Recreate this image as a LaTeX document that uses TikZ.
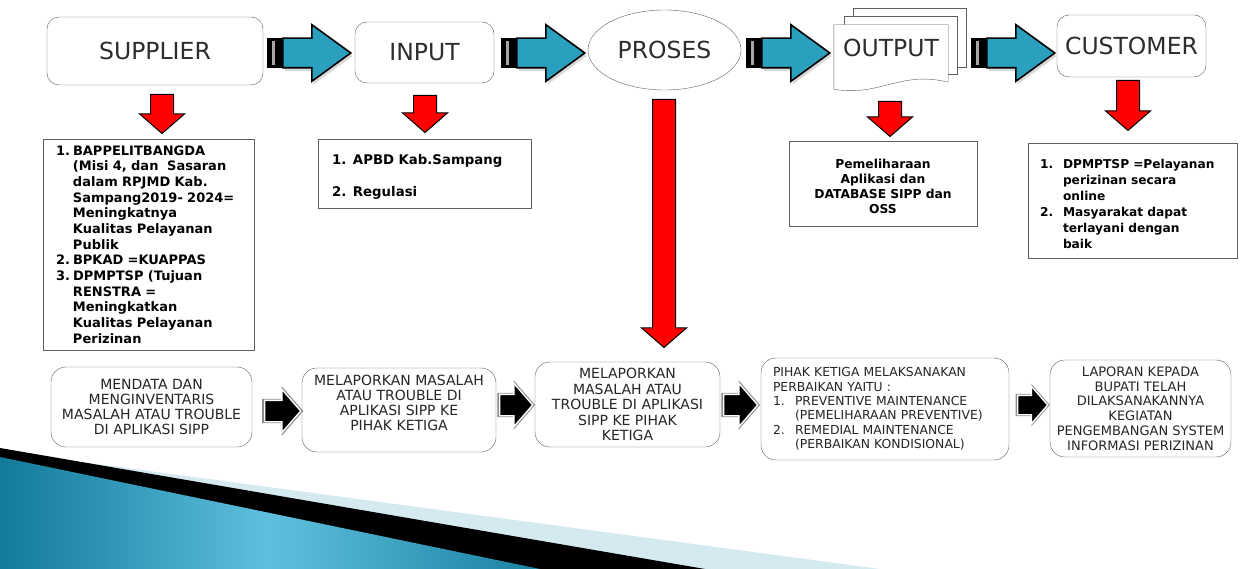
\documentclass[tikz,border=0pt]{standalone}
\usepackage{fontspec}
\setmainfont{DejaVu Sans}
\usetikzlibrary{shapes.geometric,shapes.arrows,calc,shadows,backgrounds}
\setlength{\parindent}{0pt}
\definecolor{arrowblue}{RGB}{43,160,190}
\definecolor{boxgray}{RGB}{95,95,95}
\definecolor{labelgray}{RGB}{45,45,45}
\definecolor{tealdark}{RGB}{18,122,154}
\definecolor{teallight}{RGB}{94,192,222}
\definecolor{tealpale}{RGB}{213,233,240}
\tikzstyle{topbox} = [draw=boxgray, fill=white, rounded corners=12pt,
    font=\fontsize{23.5}{26}\selectfont, text=labelgray, inner sep=0pt]
\tikzstyle{listbox} = [draw=boxgray, fill=white, rectangle, align=left,
    font=\bfseries\fontsize{13}{15.67}\selectfont, inner ysep=0pt]
\tikzstyle{stepbox} = [draw=boxgray, fill=white, rounded corners=15pt,
    align=center, text=black!85, inner sep=0pt]
\tikzstyle{bluearrow} = [single arrow, draw=black, line width=1.6pt, fill=arrowblue,
    inner xsep=0pt, inner ysep=14pt, minimum width=0pt, minimum height=68pt,
    single arrow head extend=13.5pt, single arrow tip angle=72, anchor=tail,
    drop shadow={shadow xshift=2pt, shadow yshift=-3pt, opacity=0.3, fill=gray}]
\tikzstyle{arrowtail} = [rectangle, fill=black, minimum width=15pt, minimum height=30pt,
    inner sep=0pt, path picture={\fill[gray!70]
      ([xshift=5pt,yshift=3pt]path picture bounding box.south west) rectangle
      ([xshift=8pt,yshift=-3pt]path picture bounding box.north west);}]
\tikzstyle{redarrow} = [single arrow, draw=black, line width=1pt, fill=red,
    inner xsep=0pt, inner ysep=11pt, minimum width=0pt,
    single arrow head extend=11pt, single arrow tip angle=98, rotate=-90, anchor=tail]
\tikzstyle{steparrow} = [single arrow, draw=white, line width=1.4pt, fill=black,
    inner xsep=0pt, inner ysep=10pt, minimum width=0pt,
    single arrow head extend=11pt, single arrow tip angle=98, anchor=tail,
    drop shadow={shadow xshift=0pt, shadow yshift=0pt, shadow scale=1.14, opacity=0.6, fill=black!75}]

\begin{document}
\begin{tikzpicture}[x=1pt,y=-1pt]
\useasboundingbox (0,0) rectangle (1242,569);
% corner decoration
\fill[tealpale] (0,451) -- (880,569) -- (0,569) -- cycle;
\fill[black] (0,448) -- (705,569) -- (0,569) -- cycle;
\shade[left color=tealdark, right color=tealdark!90!teallight, middle color=teallight]
  (0,457) -- (540,569) -- (0,569) -- cycle;

% top row
\node[topbox, minimum width=216pt, minimum height=68pt] (supplier) at (155,51) {SUPPLIER};
\node[topbox, minimum width=139pt, minimum height=61pt] (input) at (424.5,52.5) {INPUT};
\node[draw=boxgray, fill=white, ellipse, minimum width=153pt, minimum height=80pt,
  inner sep=0pt, font=\fontsize{23.5}{26}\selectfont, text=labelgray] (proses) at (664.5,50) {PROSES};
\node[minimum width=114pt, minimum height=46pt, inner sep=0pt,
  font=\fontsize{23.5}{26}\selectfont, text=labelgray] (output) at (891,48) {OUTPUT};
\node[topbox, minimum width=149pt, minimum height=62pt] (customer) at (1131.5,46) {CUSTOMER};
\begin{scope}[on background layer]
  \draw[boxgray, fill=white] ($(output.north west)+(19,-17)$) rectangle ($(output.south east)+(18,-4)$);
  \draw[boxgray, fill=white] ($(output.north west)+(10,-9)$) rectangle ($(output.south east)+(9,3)$);
  \draw[boxgray, fill=white] (output.north west) -- (output.north east) -- ($(output.south east)+(0,11)$)
    .. controls +(-48,-12) and +(46,8) .. ($(output.south west)+(0,18)$) -- cycle;
\end{scope}

% blue arrows
\node[bluearrow] (a1) at (282,53) {};
\node[arrowtail, anchor=east] (t1) at (a1.tail) {};
\node[bluearrow] (a2) at (516,53) {};
\node[arrowtail, anchor=east] (t2) at (a2.tail) {};
\node[bluearrow] (a3) at (761,53) {};
\node[arrowtail, anchor=east] (t3) at (a3.tail) {};
\node[bluearrow] (a4) at (986,53) {};
\node[arrowtail, anchor=east] (t4) at (a4.tail) {};

% red arrows
\node[redarrow, minimum height=39pt] (r1) at (162,94) {};
\node[redarrow, minimum height=37pt] (r2) at (425,95) {};
\node[redarrow, minimum height=248pt] (r3) at (664,99) {};
\node[redarrow, minimum height=35pt] (r4) at (890,101) {};
\node[redarrow, minimum height=50pt] (r5) at (1128,80) {};

% lists
\node[listbox, minimum width=211pt, minimum height=211pt, text width=185pt, inner xsep=13pt]
  (slist) at (148.5,244.5) {%
  \makebox[17pt][l]{1.}BAPPELITBANGDA\\
  \hspace*{17pt}(Misi 4, dan \ Sasaran\\
  \hspace*{17pt}dalam RPJMD Kab.\\
  \hspace*{17pt}Sampang2019- 2024=\\
  \hspace*{17pt}Meningkatnya\\
  \hspace*{17pt}Kualitas Pelayanan\\
  \hspace*{17pt}Publik\\
  \makebox[17pt][l]{2.}BPKAD =KUAPPAS\\
  \makebox[17pt][l]{3.}DPMPTSP (Tujuan\\
  \hspace*{17pt}RENSTRA =\\
  \hspace*{17pt}Meningkatkan\\
  \hspace*{17pt}Kualitas Pelayanan\\
  \hspace*{17pt}Perizinan};
\node[listbox, minimum width=213pt, minimum height=69pt, text width=185pt, inner xsep=14pt,
  font=\bfseries\fontsize{13.3}{16}\selectfont] (ilist) at (424.5,173.5)
  {\mbox{}\\1. APBD Kab.Sampang\\\mbox{}\\2. Regulasi};
\node[listbox, minimum width=188pt, minimum height=85pt, text width=180pt, inner xsep=4pt,
  align=center, font=\bfseries\fontsize{12.3}{15}\selectfont] (olist) at (883,183.5)
  {\mbox{}\\Pemeliharaan\\Aplikasi dan\\DATABASE SIPP dan\\OSS};
\node[listbox, minimum width=209pt, minimum height=115pt, text width=185pt, inner xsep=12pt,
  font=\bfseries\fontsize{12.2}{16}\selectfont] (clist) at (1132.5,200.5) {%
  \mbox{}\\
  \makebox[23pt][l]{1.}DPMPTSP =Pelayanan\\
  \hspace*{23pt}perizinan secara\\
  \hspace*{23pt}online\\
  \makebox[23pt][l]{2.}Masyarakat dapat\\
  \hspace*{23pt}terlayani dengan\\
  \hspace*{23pt}baik};

% bottom steps
\node[stepbox, font=\fontsize{14}{15}\selectfont, minimum width=201pt, minimum height=80pt]
  (step1) at (151.5,407) {MENDATA DAN\\MENGINVENTARIS\\MASALAH ATAU TROUBLE\\DI APLIKASI SIPP};
\node[stepbox, font=\fontsize{14}{15}\selectfont, minimum width=194pt, minimum height=84pt]
  (step2) at (399,410) {MELAPORKAN MASALAH\\ATAU TROUBLE DI\\APLIKASI SIPP KE\\PIHAK KETIGA\\\mbox{}};
\node[stepbox, font=\fontsize{14}{15.5}\selectfont, minimum width=185pt, minimum height=85pt]
  (step3) at (627.5,404.5) {MELAPORKAN\\MASALAH ATAU\\TROUBLE DI APLIKASI\\SIPP KE PIHAK\\KETIGA};
\node[stepbox, font=\fontsize{12.4}{14.4}\selectfont, minimum width=248pt, minimum height=102pt,
  align=left, text width=224pt, inner xsep=12pt] (step4) at (885,409) {%
  PIHAK KETIGA MELAKSANAKAN\\
  PERBAIKAN YAITU :\\
  \makebox[22pt][l]{1.}PREVENTIVE MAINTENANCE\\
  \hspace*{22pt}(PEMELIHARAAN PREVENTIVE)\\
  \makebox[22pt][l]{2.}REMEDIAL MAINTENANCE\\
  \hspace*{22pt}(PERBAIKAN KONDISIONAL)};
\node[stepbox, font=\fontsize{13}{14.8}\selectfont, minimum width=181pt, minimum height=97pt]
  (step5) at (1140.5,408.5) {LAPORAN KEPADA\\BUPATI TELAH\\DILAKSANAKANNYA\\KEGIATAN\\PENGEMBANGAN SYSTEM\\INFORMASI PERIZINAN};

% step arrows
\node[steparrow, minimum height=36pt] (b1) at (264,411) {};
\node[steparrow, minimum height=33pt] (b2) at (499,405) {};
\node[steparrow, minimum height=34pt] (b3) at (723,405) {};
\node[steparrow, minimum height=30pt, inner ysep=9pt, single arrow head extend=9pt] (b4) at (1017,405) {};
\end{tikzpicture}
\end{document}
